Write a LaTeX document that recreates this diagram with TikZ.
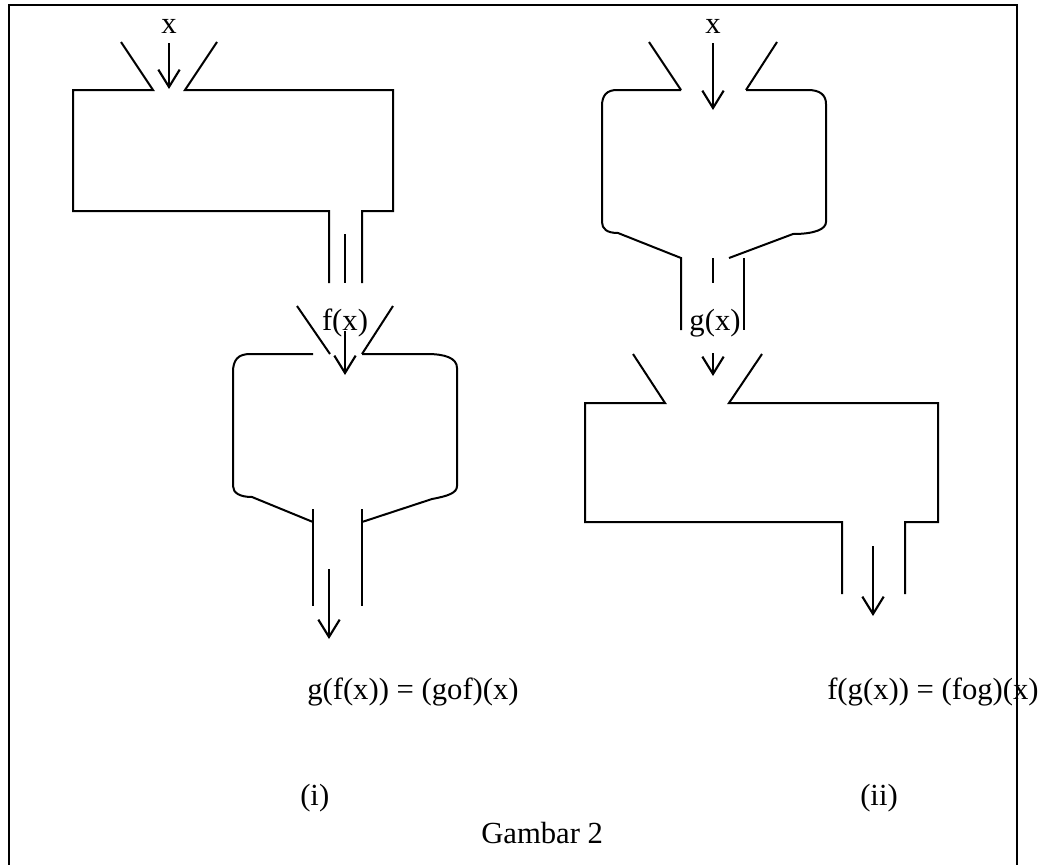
\documentclass[tikz,border=0pt]{standalone}
\usepackage{fontspec}
\setmainfont{Liberation Serif}
\usetikzlibrary{arrows.meta}
\begin{document}
\begin{tikzpicture}[x=0.75pt,y=-0.75pt,
  wall/.style={line width=1.5pt,line join=miter},
  flow/.style={line width=1.6pt,-{Straight Barb[length=13pt,width=16pt,line width=1.6pt]}},
  lbl/.style={inner sep=0pt,font=\fontsize{23}{27}\selectfont}]
\useasboundingbox (0,0) rectangle (1044,864);
% outer frame, open at the bottom
\draw[line width=1.6pt] (9,870) -- (9,5) -- (1017,5) -- (1017,870);

% ---------- (i): first f, then g ----------
% rectangular machine f
\draw[wall] (121,42) -- (153,90) -- (73,90) -- (73,211) -- (329,211) -- (329,283);
\draw[wall] (217,42) -- (185,90) -- (393,90) -- (393,211) -- (362,211) -- (362,283);
\draw[wall] (345,234) -- (345,283);
\node[lbl,anchor=base] (xa) at (169,33) {x};
\coordinate (xaIn) at (169,43);
\coordinate (xaEnd) at (169,89);
\draw[flow] (xaIn) -- (xaEnd);

% rounded machine g
\draw[wall] (297,306) -- (330,354);
\draw[wall] (393,306) -- (362,354);
\draw[wall] (313,354) -- (250,354) .. controls (238,354) and (233,360) .. (233,372)
  -- (233,486) .. controls (233,493) and (240,497) .. (252,497) -- (313,522);
\draw[wall] (362,354) -- (427,354) .. controls (445,354) and (457,358) .. (457,368)
  -- (457,486) .. controls (457,493) and (448,496) .. (432,499) -- (362,522);
\draw[wall] (313,509) -- (313,606);
\draw[wall] (362,509) -- (362,606);
\node[lbl,anchor=base] (fx) at (345,330) {f(x)};
\coordinate (fxIn) at (345,331);
\coordinate (fxEnd) at (345,375);
\draw[flow] (fxIn) -- (fxEnd);
\coordinate (gfIn) at (329,569);
\coordinate (gfEnd) at (329,639);
\draw[flow] (gfIn) -- (gfEnd);
\node[lbl,anchor=base west] (gof) at (307,699) {g(f(x)) = (gof)(x)};
\node[lbl,anchor=base west] (ci) at (300,805) {(i)};

% ---------- (ii): first g, then f ----------
% rounded machine g
\draw[wall] (649,42) -- (681,90);
\draw[wall] (777,42) -- (746,90);
\draw[wall] (681,90) -- (617,90) .. controls (607,90) and (602,95) .. (602,106)
  -- (602,222) .. controls (602,229) and (607,233) .. (618,233) -- (681,258) -- (681,330);
\draw[wall] (746,90) -- (808,90) .. controls (820,90) and (826,95) .. (826,104)
  -- (826,222) .. controls (826,229) and (815,234) .. (793,234) -- (729,258);
\draw[wall] (744,258) -- (744,330);
\draw[wall] (713,258) -- (713,283);
\node[lbl,anchor=base] (xb) at (713,33) {x};
\coordinate (xbIn) at (713,43);
\coordinate (xbEnd) at (713,110);
\draw[flow] (xbIn) -- (xbEnd);
\node[lbl,anchor=base] (gx) at (715,330) {g(x)};
\coordinate (gxIn) at (713,353);
\coordinate (gxEnd) at (713,376);
\draw[flow] (gxIn) -- (gxEnd);

% rectangular machine f
\draw[wall] (633,354) -- (665,403) -- (585,403) -- (585,522) -- (842,522) -- (842,594);
\draw[wall] (762,354) -- (729,403) -- (938,403) -- (938,522) -- (905,522) -- (905,594);
\coordinate (fgIn) at (873,546);
\coordinate (fgEnd) at (873,616);
\draw[flow] (fgIn) -- (fgEnd);
\node[lbl,anchor=base west] (fog) at (827,699) {f(g(x)) = (fog)(x)};
\node[lbl,anchor=base west] (cii) at (860,805) {(ii)};

\node[lbl,anchor=base west] (cap) at (481,843) {Gambar 2};
\end{tikzpicture}
\end{document}
